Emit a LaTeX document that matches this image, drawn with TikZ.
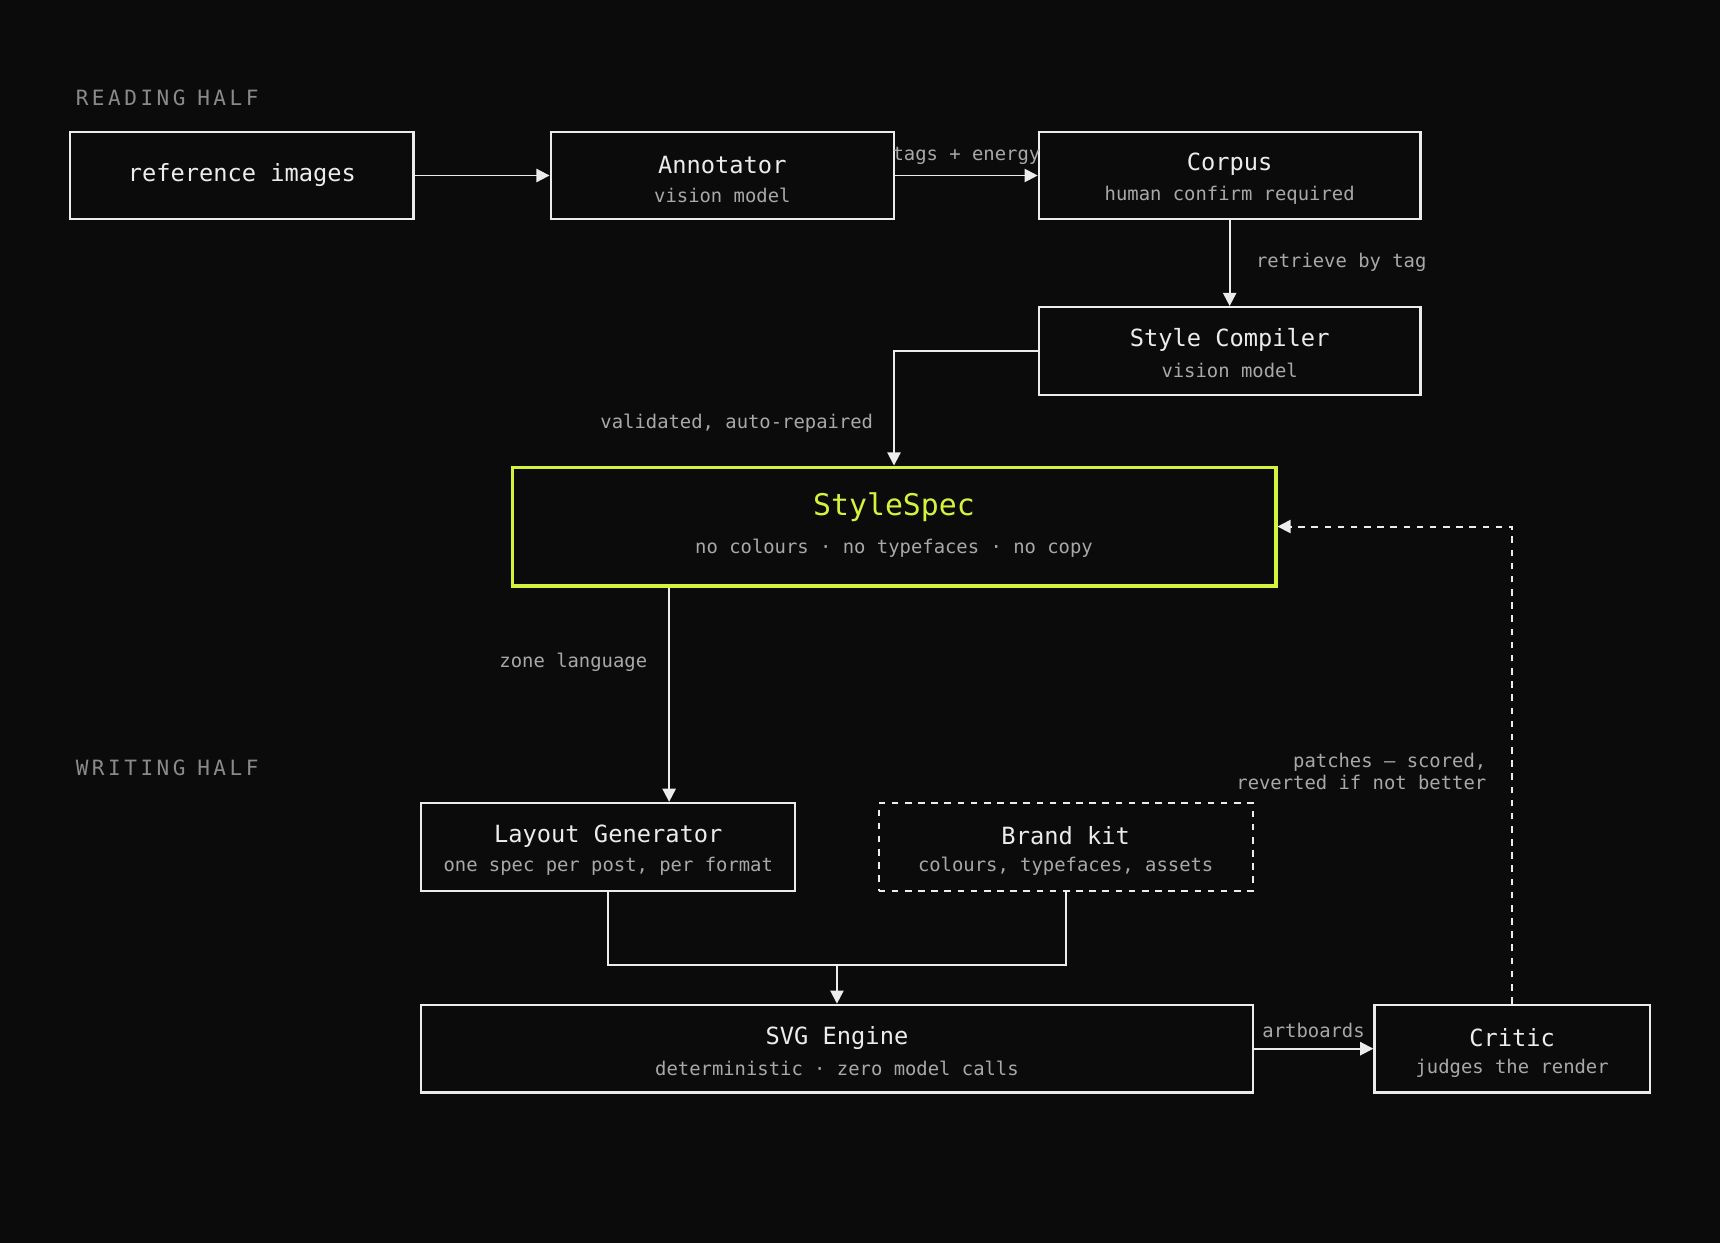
\documentclass[tikz,border=0pt]{standalone}
\usepackage{fontspec}
\setmainfont{DejaVu Sans Mono}
\usetikzlibrary{arrows.meta}
\definecolor{bg}{HTML}{0B0B0B}
\definecolor{ink}{HTML}{ECECEC}
\definecolor{muted}{HTML}{A8A8A8}
\definecolor{dim}{HTML}{8A8A8A}
\definecolor{lime}{HTML}{D6F23C}
\tikzset{
  box/.style={draw=ink, line width=1pt, minimum height=40pt, inner sep=0pt},
  title/.style={text=ink, font=\fontsize{10.8}{12}\selectfont},
  sub/.style={text=muted, font=\fontsize{8.6}{10}\selectfont},
  elab/.style={text=muted, font=\fontsize{8.6}{10}\selectfont},
  half/.style={text=dim, font=\fontsize{9.6}{11}\selectfont, anchor=west},
  flow/.style={draw=ink, line width=0.9pt, -{Triangle[length=6pt,width=6pt]}},
}
\begin{document}
\begin{tikzpicture}[x=0.5pt, y=-0.5pt]
  \fill[bg] (0,0) rectangle (1568,1133);

  % section labels
  \node[half] (readh) at (62,89) {R\,E\,A\,D\,I\,N\,G\;\;H\,A\,L\,F};
  \node[half] (writeh) at (62,700) {W\,R\,I\,T\,I\,N\,G\;\;H\,A\,L\,F};

  % reading half
  \node[box, minimum width=156.5pt] (ref) at (220.5,160) {};
  \node[title] at (ref) {reference images};

  \node[box, minimum width=156.5pt] (annot) at (658.5,160) {};
  \node[title] at (658.5,150) {Annotator};
  \node[sub] at (658.5,178) {vision model};

  \node[box, minimum width=174pt] (corpus) at (1121,160) {};
  \node[title] at (1121,150) {Corpus};
  \node[sub] at (1121,178) {human confirm required};

  \node[box, minimum width=174pt] (compiler) at (1121,320) {};
  \node[title] at (1121,310) {Style Compiler};
  \node[sub] at (1121,338) {vision model};

  % the spec
  \node[draw=lime, line width=1.6pt, minimum width=348pt, minimum height=54pt] (spec) at (815,480) {};
  \node[text=lime, font=\fontsize{13.6}{15}\selectfont] at (815,462) {StyleSpec};
  \node[sub] at (815,500) {no colours · no typefaces · no copy};

  % writing half
  \node[box, minimum width=170.5pt] (layout) at (554.5,772) {};
  \node[title] at (554.5,762) {Layout Generator};
  \node[sub] at (554.5,790) {one spec per post, per format};

  \node[box, dashed, minimum width=170.5pt] (brand) at (971.5,772) {};
  \node[title] at (971.5,762) {Brand kit};
  \node[sub] at (971.5,790) {colours, typefaces, assets};

  \node[box, minimum width=379pt] (svg) at (763,956) {};
  \node[title] at (763,946) {SVG Engine};
  \node[sub] at (763,974) {deterministic · zero model calls};

  \node[box, minimum width=125.5pt] (critic) at (1378.5,956) {};
  \node[title] at (1378.5,946) {Critic};
  \node[sub] at (1378.5,974) {judges the render};

  \coordinate (merge) at (763,880);

  % connectors
  \draw[flow] (ref) -- (annot);
  \draw[flow] (annot) -- (corpus) node[elab, midway, above=1pt] {tags + energy};
  \draw[flow] (corpus) -- (compiler);
  \node[elab, anchor=west] at (1138,239) {retrieve by tag};
  \draw[flow] (compiler.west) -| (spec.north);
  \node[elab, anchor=east] at (803,386) {validated, auto-repaired};
  \draw[flow] (spec.south -| 610,0) -- (layout.north -| 610,0);
  \node[elab, anchor=east] at (597,604) {zone language};
  \draw[draw=ink, line width=0.9pt] (layout.south) |- (merge);
  \draw[draw=ink, line width=0.9pt] (brand.south) |- (merge);
  \draw[flow] (merge) -- (svg.north);
  \draw[flow] (svg) -- (critic) node[elab, midway, above=1pt] {artboards};
  \draw[flow, dashed] (critic.north) |- (spec.east);
  \node[elab, anchor=east, align=right] at (1362,703) {patches — scored,\\reverted if not better};
\end{tikzpicture}
\end{document}
